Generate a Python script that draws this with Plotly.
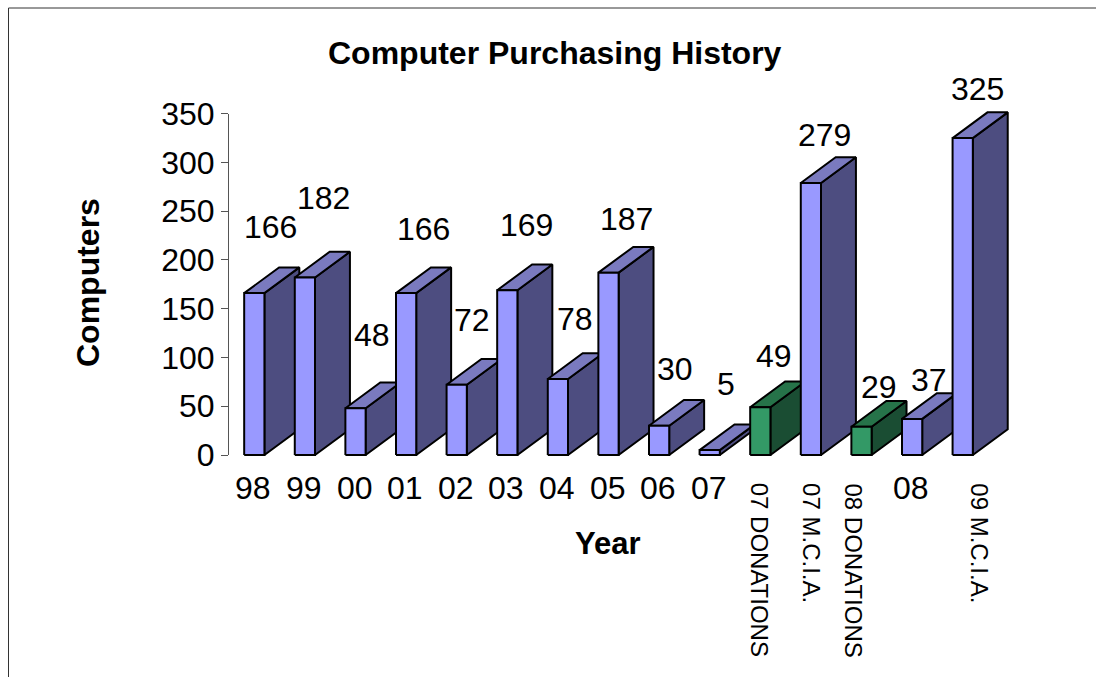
import plotly.graph_objects as go

# ---- data ----
categories = ["98", "99", "00", "01", "02", "03", "04", "05", "06", "07",
              "07 DONATIONS", "07 M.C.I.A.", "08 DONATIONS", "08", "09 M.C.I.A."]
computers = [166, 182, 48, 166, 72, 169, 78, 187, 30, 5, 49, 279, 29, 37, 325]
is_donation = [False] * 10 + [True, False, True, False, False]
title_text = "Computer Purchasing History"
y_title = "Computers"
x_title = "Year"
y_ticks = [0, 50, 100, 150, 200, 250, 300, 350]

# ---- style / layout constants ----
W, H = 1096, 677
FONT = "Liberation Sans, Arial, sans-serif"
label_dx = [16, 19, 16, 17, 15, 19, 17, 18, 16, 16, 14, 14, 17, 17, 15]
label_dy = [66, 80, 73, 64, 65, 65, 60, 54, 57, 66, 51, 48, 40, 39, 49]
tick_dx = [0] * 10 + [0, 1, -8, 0, 17]
tick_rotated = [False] * 10 + [True, True, True, False, True]
HALF = 0.2      # half bar width in category units
DEPTH_X = 0.69  # 3-D depth in category units
DEPTH_Y = 26.4  # 3-D depth in value units
BLUE = ("#9999FF", "#7A7ABF", "#4D4D80")
GREEN = ("#339966", "#267349", "#1A4D33")
PX_X = 50.6     # pixels per category
PX_Y = 341.3 / 350  # pixels per value unit
Y0_PX, YTOP_PX, X0_PX = 455, 113.7, 229
X_MIN, X_MAX = -0.5, 15.5
Y2_MIN, Y2_MAX = -20, 400

fig = go.Figure()
fig.add_trace(go.Scatter(x=[None], y=[None], xaxis="x", yaxis="y", showlegend=False))


def face(xs, ys, color):
    fig.add_trace(go.Scatter(
        x=xs, y=ys, xaxis="x", yaxis="y2", mode="lines", fill="toself", fillcolor=color,
        line=dict(color="black", width=2), hoverinfo="skip",
        showlegend=False))


for i, v in enumerate(computers):
    front, top, side = GREEN if is_donation[i] else BLUE
    l, r = i - HALF, i + HALF
    face([r, r + DEPTH_X, r + DEPTH_X, r, r], [0, DEPTH_Y, v + DEPTH_Y, v, 0], side)
    face([l, r, r + DEPTH_X, l + DEPTH_X, l], [v, v, v + DEPTH_Y, v + DEPTH_Y, v], top)
    face([l, r, r, l, l], [0, 0, v, v, 0], front)

annotations = []
for i, v in enumerate(computers):
    annotations.append(dict(
        x=i, y=v, xref="x", yref="y2", text=str(v), showarrow=False,
        xanchor="center", yanchor="middle", xshift=label_dx[i], yshift=label_dy[i],
        font=dict(family=FONT, size=32, color="black")))

for i, c in enumerate(categories):
    if tick_rotated[i]:
        annotations.append(dict(
            x=i, y=0, xref="x", yref="y2", text=c, showarrow=False,
            textangle=90, xanchor="center", yanchor="top",
            xshift=tick_dx[i], yshift=-(481 - Y0_PX),
            font=dict(family=FONT, size=24, color="black")))
    else:
        annotations.append(dict(
            x=i, y=0, xref="x", yref="y2", text=c, showarrow=False,
            xanchor="center", yanchor="middle", xshift=tick_dx[i] - 1,
            yshift=-(488 - Y0_PX),
            font=dict(family=FONT, size=32, color="black")))


def pixel_text(text, px, py, size, angle=0):
    """Place a text at a page pixel, anchored on the axes' lower-left corner."""
    return dict(x=X_MIN, y=0, xref="x", yref="y2", text="<b>%s</b>" % text,
                showarrow=False, textangle=angle, xanchor="center", yanchor="middle",
                xshift=px - X0_PX, yshift=Y0_PX - py,
                font=dict(family=FONT, size=size, color="black"))


annotations += [
    pixel_text(title_text, 555, 53, 32),
    pixel_text(y_title, 88, 283, 32, -90),
    pixel_text(x_title, 608, 543, 31),
]

frame_line = dict(color="#333333", width=1)

fig.update_layout(
    width=W, height=H, margin=dict(l=0, r=0, t=0, b=0, autoexpand=False),
    paper_bgcolor="white", plot_bgcolor="rgba(0,0,0,0)", showlegend=False,
    xaxis=dict(domain=[X0_PX / W, (X0_PX + (X_MAX - X_MIN) * PX_X) / W],
               range=[X_MIN, X_MAX], visible=False, automargin=False),
    yaxis=dict(domain=[1 - Y0_PX / H, 1 - YTOP_PX / H], range=[0, 350], tickvals=y_ticks,
               ticks="outside", ticklen=7, tickwidth=1, tickcolor="#555555",
               showline=True, linecolor="#555555", linewidth=1, showgrid=False, automargin=False,
               zeroline=False, tickfont=dict(family=FONT, size=32, color="black"), anchor="x"),
    yaxis2=dict(domain=[1 - (Y0_PX - Y2_MIN * PX_Y) / H, 1 - (Y0_PX - Y2_MAX * PX_Y) / H],
                range=[Y2_MIN, Y2_MAX], visible=False, anchor="x", automargin=False),
    annotations=annotations,
    shapes=[
        dict(type="line", xref="paper", yref="paper", x0=8.5 / W, x1=1, y0=1 - 8 / H, y1=1 - 8 / H,
             line=frame_line, layer="below"),
        dict(type="line", xref="paper", yref="paper", x0=8.5 / W, x1=8.5 / W, y0=0, y1=1 - 8 / H,
             line=frame_line, layer="below"),
    ],
)

fig.write_html("out.html", config={"displayModeBar": False},
               post_script="document.body.style.margin='0';document.body.style.overflow='hidden';")
